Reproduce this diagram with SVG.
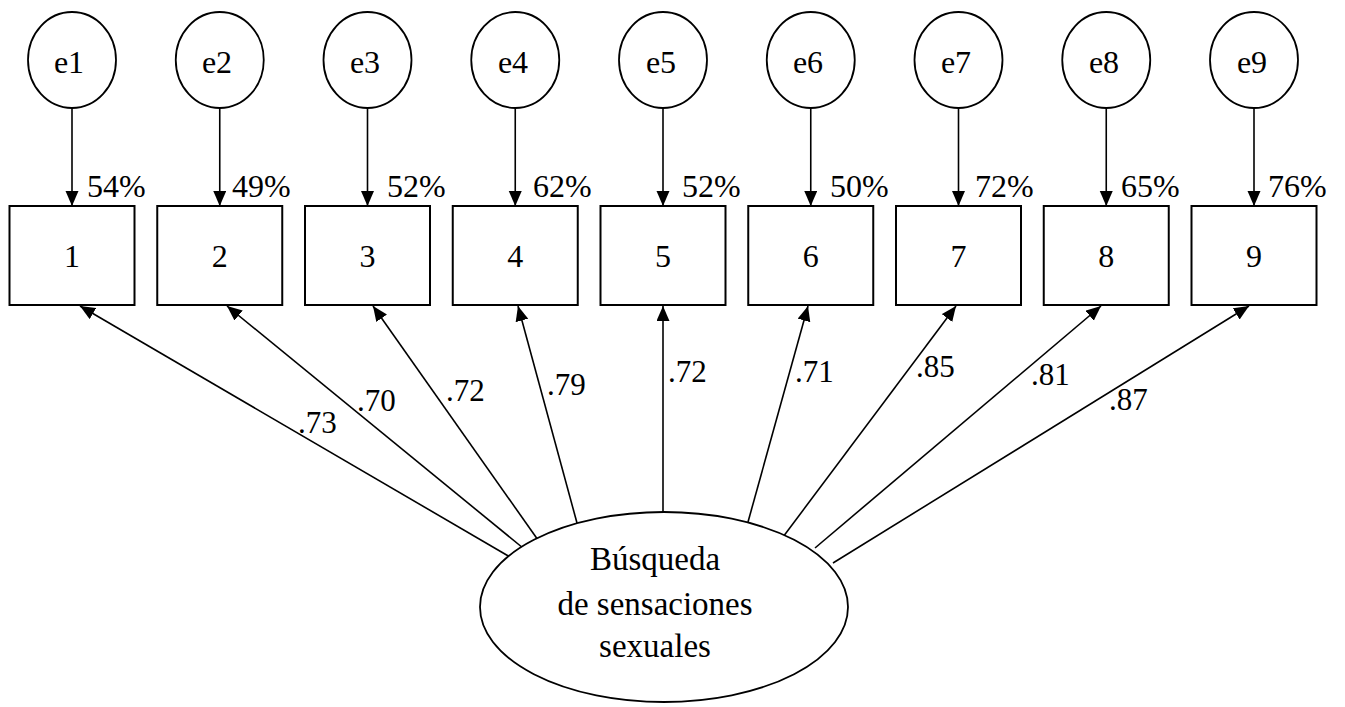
<svg xmlns="http://www.w3.org/2000/svg" width="1345" height="707" viewBox="0 0 1345 707">
<defs>
<style>
.shape{fill:#fff;stroke:#000;stroke-width:1.8}
.box{fill:#fff;stroke:#000;stroke-width:2}
.ln{stroke:#000;stroke-width:1.6;fill:none;marker-end:url(#ah)}
text{font-family:"Liberation Serif","Times New Roman",serif;fill:#000}
.lbl{font-size:32px;text-anchor:middle}
.pct{font-size:32px}
.coef{font-size:31px}
.lat{font-size:33px;text-anchor:middle}
</style>
<marker id="ah" markerUnits="userSpaceOnUse" markerWidth="16" markerHeight="14" refX="15" refY="6.5" orient="auto">
<path d="M0,0 L15,6.5 L0,13 z" fill="#000"/>
</marker>
</defs>
<rect width="1345" height="707" fill="#fff"/>
<g id="connectors">
<line class="ln" x1="72" y1="108" x2="72" y2="206"/>
<line class="ln" x1="219.75" y1="108" x2="219.75" y2="206"/>
<line class="ln" x1="367.5" y1="108" x2="367.5" y2="206"/>
<line class="ln" x1="515.25" y1="108" x2="515.25" y2="206"/>
<line class="ln" x1="663" y1="108" x2="663" y2="206"/>
<line class="ln" x1="810.75" y1="108" x2="810.75" y2="206"/>
<line class="ln" x1="958.5" y1="108" x2="958.5" y2="206"/>
<line class="ln" x1="1106.25" y1="108" x2="1106.25" y2="206"/>
<line class="ln" x1="1254" y1="108" x2="1254" y2="206"/>
<line class="ln" x1="510" y1="557" x2="80" y2="306"/>
<line class="ln" x1="523" y1="548" x2="227" y2="306"/>
<line class="ln" x1="538" y1="540" x2="373" y2="306"/>
<line class="ln" x1="577" y1="523" x2="518" y2="306"/>
<line class="ln" x1="663" y1="513" x2="663" y2="306"/>
<line class="ln" x1="748" y1="522" x2="808" y2="306"/>
<line class="ln" x1="783" y1="537" x2="956" y2="306"/>
<line class="ln" x1="815" y1="548" x2="1101" y2="306"/>
<line class="ln" x1="833" y1="563" x2="1249" y2="306"/>
<text class="pct" x="87" y="197">54%</text>
<text class="pct" x="232" y="197">49%</text>
<text class="pct" x="387" y="197">52%</text>
<text class="pct" x="533" y="197">62%</text>
<text class="pct" x="682" y="197">52%</text>
<text class="pct" x="830" y="197">50%</text>
<text class="pct" x="975" y="197">72%</text>
<text class="pct" x="1121" y="197">65%</text>
<text class="pct" x="1268" y="197">76%</text>
<text class="coef" x="298" y="433">.73</text>
<text class="coef" x="357" y="411">.70</text>
<text class="coef" x="446" y="401">.72</text>
<text class="coef" x="547" y="395">.79</text>
<text class="coef" x="668" y="382">.72</text>
<text class="coef" x="795" y="382">.71</text>
<text class="coef" x="916" y="377">.85</text>
<text class="coef" x="1031" y="385">.81</text>
<text class="coef" x="1109" y="410">.87</text>
</g>
<g id="e1"><ellipse class="shape" cx="72" cy="60" rx="44" ry="48"/><text class="lbl" x="69" y="73">e1</text></g>
<g id="e2"><ellipse class="shape" cx="219.75" cy="60" rx="44" ry="48"/><text class="lbl" x="217" y="73">e2</text></g>
<g id="e3"><ellipse class="shape" cx="367.5" cy="60" rx="44" ry="48"/><text class="lbl" x="365" y="73">e3</text></g>
<g id="e4"><ellipse class="shape" cx="515.25" cy="60" rx="44" ry="48"/><text class="lbl" x="513" y="73">e4</text></g>
<g id="e5"><ellipse class="shape" cx="663" cy="60" rx="44" ry="48"/><text class="lbl" x="661" y="73">e5</text></g>
<g id="e6"><ellipse class="shape" cx="810.75" cy="60" rx="44" ry="48"/><text class="lbl" x="808" y="73">e6</text></g>
<g id="e7"><ellipse class="shape" cx="958.5" cy="60" rx="44" ry="48"/><text class="lbl" x="956" y="73">e7</text></g>
<g id="e8"><ellipse class="shape" cx="1106.25" cy="60" rx="44" ry="48"/><text class="lbl" x="1104" y="73">e8</text></g>
<g id="e9"><ellipse class="shape" cx="1254" cy="60" rx="44" ry="48"/><text class="lbl" x="1252" y="73">e9</text></g>
<g id="v1"><rect class="box" x="9.5" y="206" width="125" height="99"/><text class="lbl" x="72" y="267">1</text></g>
<g id="v2"><rect class="box" x="157.25" y="206" width="125" height="99"/><text class="lbl" x="219.75" y="267">2</text></g>
<g id="v3"><rect class="box" x="305" y="206" width="125" height="99"/><text class="lbl" x="367.5" y="267">3</text></g>
<g id="v4"><rect class="box" x="452.75" y="206" width="125" height="99"/><text class="lbl" x="515.25" y="267">4</text></g>
<g id="v5"><rect class="box" x="600.5" y="206" width="125" height="99"/><text class="lbl" x="663" y="267">5</text></g>
<g id="v6"><rect class="box" x="748.25" y="206" width="125" height="99"/><text class="lbl" x="810.75" y="267">6</text></g>
<g id="v7"><rect class="box" x="896" y="206" width="125" height="99"/><text class="lbl" x="958.5" y="267">7</text></g>
<g id="v8"><rect class="box" x="1043.75" y="206" width="125" height="99"/><text class="lbl" x="1106.25" y="267">8</text></g>
<g id="v9"><rect class="box" x="1191.5" y="206" width="125" height="99"/><text class="lbl" x="1254" y="267">9</text></g>
<g id="latent"><ellipse class="shape" cx="664" cy="607" rx="184" ry="95"/>
<text class="lat" x="655" y="570">Búsqueda</text>
<text class="lat" x="655" y="615">de sensaciones</text>
<text class="lat" x="655" y="657">sexuales</text>
</g>
</svg>
